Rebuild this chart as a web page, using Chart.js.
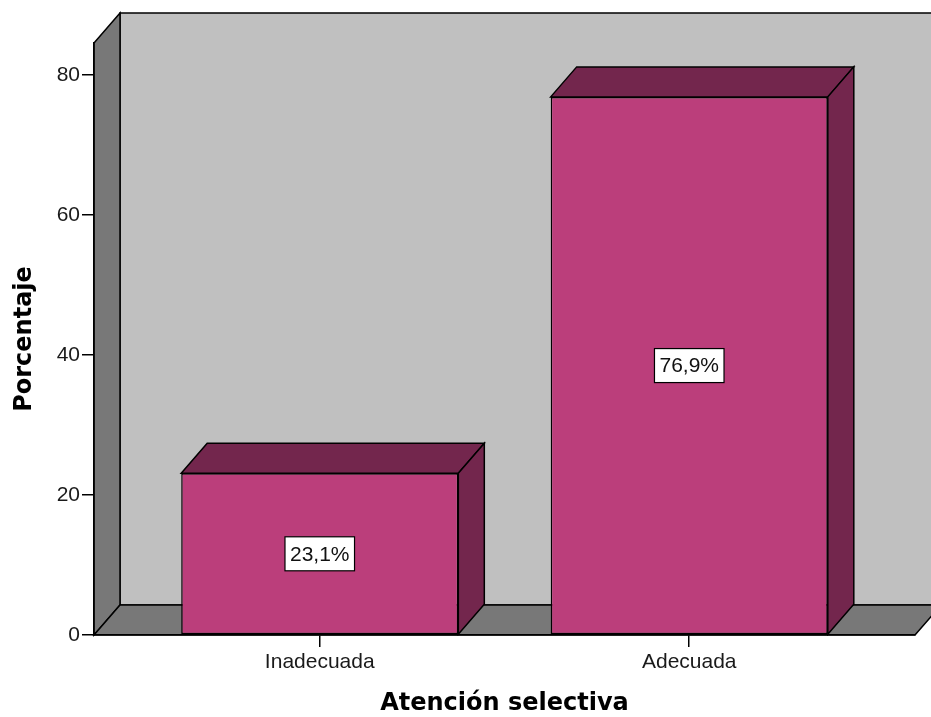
<!DOCTYPE html>
<html>
<head>
<meta charset="utf-8">
<script src="https://cdn.jsdelivr.net/npm/chart.js@4.4.1/dist/chart.umd.min.js"></script>
<style>
  html, body { margin: 0; padding: 0; background: #ffffff; }
  canvas { display: block; }
</style>
</head>
<body>
<canvas id="chart" width="931" height="717"></canvas>
<script>
// Data
const categories = ['Inadecuada', 'Adecuada'];
const percentages = [23.1, 76.9];
const yTickValues = [0, 20, 40, 60, 80];
const xAxisTitle = 'Atención selectiva';
const yAxisTitle = 'Porcentaje';

// 3D look
const DEPTH_X = 26;
const DEPTH_Y = 30;
const FRONT = '#bb3e7b';
const SHADE = '#73264d';
const WALL_BACK = '#c0c0c0';
const WALL_SIDE = '#787878';
const EDGE = '#000000';

function poly(ctx, pts, fill) {
  ctx.beginPath();
  ctx.moveTo(pts[0][0], pts[0][1]);
  for (let i = 1; i < pts.length; i++) ctx.lineTo(pts[i][0], pts[i][1]);
  ctx.closePath();
  if (fill) { ctx.fillStyle = fill; ctx.fill(); }
  ctx.stroke();
}

// Back wall, side wall and floor behind the plot
const roomPlugin = {
  id: 'room',
  beforeDraw(chart) {
    const { ctx, chartArea: a, width } = chart;
    const L = a.left, R = a.right, T = a.top, B = a.bottom;
    ctx.save();
    ctx.lineWidth = 1.5;
    ctx.strokeStyle = EDGE;
    ctx.lineJoin = 'miter';
    // back wall
    poly(ctx, [[L + DEPTH_X, T - DEPTH_Y], [width + 5, T - DEPTH_Y], [width + 5, B - DEPTH_Y], [L + DEPTH_X, B - DEPTH_Y]], WALL_BACK);
    // left wall
    poly(ctx, [[L, T], [L + DEPTH_X, T - DEPTH_Y], [L + DEPTH_X, B - DEPTH_Y], [L, B]], WALL_SIDE);
    // floor
    poly(ctx, [[L, B], [L + DEPTH_X, B - DEPTH_Y], [R + DEPTH_X, B - DEPTH_Y], [R, B]], WALL_SIDE);
    ctx.restore();
  }
};

// Top and side faces of each bar, plus the value boxes
const barDepthPlugin = {
  id: 'barDepth',
  afterDatasetsDraw(chart) {
    const { ctx } = chart;
    const meta = chart.getDatasetMeta(0);
    ctx.save();
    ctx.lineWidth = 1.5;
    ctx.strokeStyle = EDGE;
    ctx.lineJoin = 'miter';
    meta.data.forEach((bar, i) => {
      const { x, y, base, width } = bar.getProps(['x', 'y', 'base', 'width'], true);
      const l = x - width / 2, r = x + width / 2;
      poly(ctx, [[l, y], [l + DEPTH_X, y - DEPTH_Y], [r + DEPTH_X, y - DEPTH_Y], [r, y]], SHADE);
      poly(ctx, [[r, y], [r + DEPTH_X, y - DEPTH_Y], [r + DEPTH_X, base - DEPTH_Y], [r, base]], SHADE);

      // value label
      const text = percentages[i].toFixed(1).replace('.', ',') + '%';
      ctx.font = '21px "Liberation Sans", Arial, sans-serif';
      const tw = ctx.measureText(text).width;
      const bw = tw + 10, bh = 34;
      const cy = (y + base) / 2;
      ctx.fillStyle = '#ffffff';
      ctx.lineWidth = 1.2;
      ctx.fillRect(x - bw / 2, cy - bh / 2, bw, bh);
      ctx.strokeRect(x - bw / 2, cy - bh / 2, bw, bh);
      ctx.fillStyle = '#111111';
      ctx.textAlign = 'center';
      ctx.textBaseline = 'middle';
      ctx.fillText(text, x, cy + 1);
      ctx.lineWidth = 1.5;
    });
    ctx.restore();
  }
};

const tickFont = { family: '"Liberation Sans", Arial, sans-serif', size: 21 };
const titleFont = { family: '"DejaVu Sans", Verdana, sans-serif', size: 24, weight: 'bold', lineHeight: 1 };

new Chart(document.getElementById('chart'), {
  type: 'bar',
  data: {
    datasets: [{
      data: categories.map((c, i) => ({ x: i, y: percentages[i] })),
      backgroundColor: FRONT,
      borderColor: EDGE,
      borderWidth: 1.5,
      borderSkipped: false,
      barPercentage: 0.75,
      categoryPercentage: 1
    }]
  },
  options: {
    responsive: false,
    animation: false,
    events: [],
    layout: { padding: { top: 43, right: 16, left: 0, bottom: 0 } },
    plugins: { legend: { display: false }, tooltip: { enabled: false } },
    scales: {
      x: {
        type: 'linear',
        offset: false,
        min: -0.611,
        max: 1.611,
        afterBuildTicks: (s) => { s.ticks = categories.map((c, i) => ({ value: i })); },
        afterFit: (s) => { s.height = 82; },
        ticks: {
          callback: (v) => categories[v],
          font: tickFont,
          color: '#1a1a1a',
          padding: 3,
          maxRotation: 0,
          autoSkip: false
        },
        grid: { offset: false, drawOnChartArea: false, drawTicks: true, tickLength: 12, color: EDGE, lineWidth: 1.5 },
        border: { display: true, color: EDGE, width: 1.5 },
        title: { display: true, text: xAxisTitle, font: titleFont, color: '#000', padding: { top: 0, bottom: 1 } }
      },
      y: {
        min: 0,
        max: 84.6,
        afterBuildTicks: (s) => { s.ticks = yTickValues.map(v => ({ value: v })); },
        afterFit: (s) => { s.width = 94; },
        ticks: { font: tickFont, color: '#1a1a1a', padding: 2 },
        grid: { drawOnChartArea: false, drawTicks: true, tickLength: 12, color: EDGE, lineWidth: 1.5 },
        border: { display: true, color: EDGE, width: 1.5 },
        title: { display: true, text: yAxisTitle, font: titleFont, color: '#000', padding: { top: 13, bottom: 0 } }
      }
    }
  },
  plugins: [roomPlugin, barDepthPlugin]
});
</script>
</body>
</html>
